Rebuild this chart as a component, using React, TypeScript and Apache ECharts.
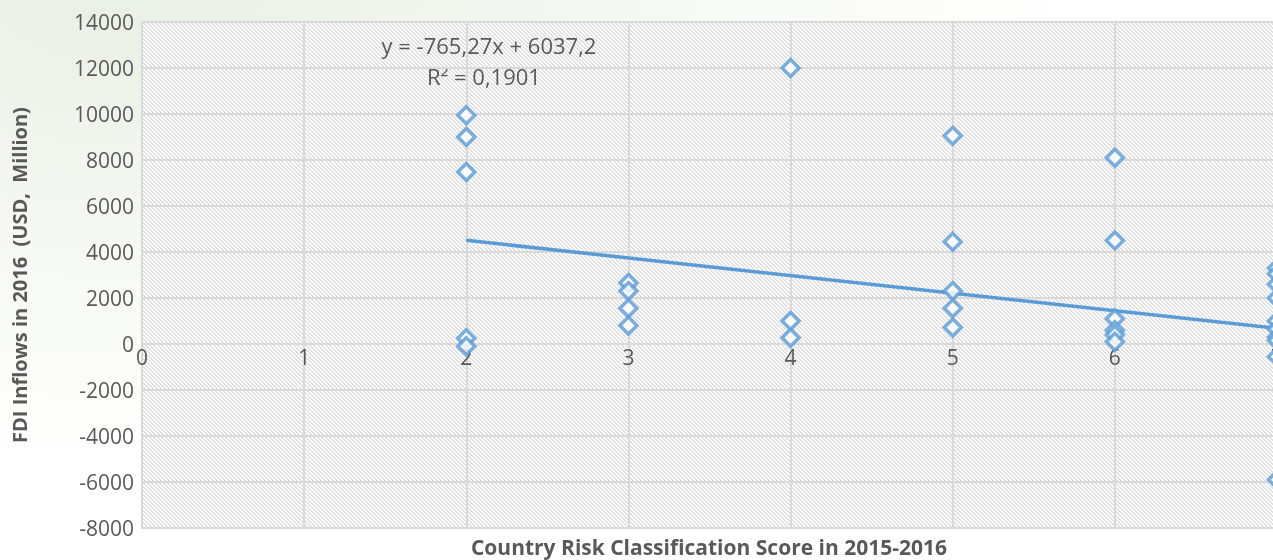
import React, { useEffect, useRef } from "react";
import * as echarts from "echarts";

const riskScore = [
  2, 2, 2, 2, 2,
  3, 3, 3, 3,
  4, 4, 4,
  5, 5, 5, 5, 5,
  6, 6, 6, 6, 6, 6,
  7, 7, 7, 7, 7, 7, 7, 7, 7, 7,
];
const fdiInflows = [
  9950, 9000, 7480, 250, -100,
  2650, 2300, 1550, 800,
  12000, 1000, 270,
  9050, 4450, 2300, 1550, 720,
  8100, 4500, 1100, 600, 400, 100,
  3300, 3050, 2600, 2000, 1000, 650, 300, 150, -550, -5900,
];
const trendX = [2, 7];
const trendY = [4506.7, 680.3];
const equationText = "y = -765,27x + 6037,2";
const r2Text = "R² = 0,1901";
const xTitle = "Country Risk Classification Score in 2015-2016";
const yTitle = "FDI Inflows in 2016  (USD,  Million)";

function makeHatch() {
  const c = document.createElement("canvas");
  c.width = 4;
  c.height = 4;
  const ctx = c.getContext("2d")!;
  ctx.fillStyle = "#ffffff";
  ctx.fillRect(0, 0, 4, 4);
  ctx.fillStyle = "#e0e0e0";
  for (let y = 0; y < 4; y++) {
    for (let k = 0; k < 2; k++) {
      const x = (y + k) % 4;
      ctx.fillRect(x, y, 1, 1);
    }
  }
  return c;
}

export default function App() {
  const ref = useRef<HTMLDivElement>(null);
  useEffect(() => {
    document.body.style.margin = "0";
    document.body.style.overflow = "hidden";
    const chart = echarts.init(ref.current!, null, { renderer: "svg" });
    const txt = "#595959";
    const font = "'Open Sans', sans-serif";
    chart.setOption({
      animation: false,
      textStyle: { fontFamily: font },
      grid: {
        left: 142,
        top: 22,
        width: 1135,
        height: 506,
        show: true,
        borderWidth: 0,
        containLabel: false,
        outerBoundsMode: "none",
        backgroundColor: { image: makeHatch(), repeat: "repeat" },
      },
      xAxis: {
        type: "value",
        min: 0,
        max: 7,
        interval: 1,
        position: "bottom",
        offset: -184,
        axisLine: { onZero: false, lineStyle: { color: "#d9d9d9", width: 2 } },
        axisTick: { show: false },
        axisLabel: { color: txt, fontSize: 21, fontFamily: font, margin: 2 },
        splitLine: { show: true, lineStyle: { color: "#d9d9d9", width: 2 } },
      },
      yAxis: {
        type: "value",
        min: -8000,
        max: 14000,
        interval: 2000,
        name: yTitle,
        nameLocation: "middle",
        nameGap: 113,
        nameTextStyle: { color: txt, fontSize: 20, fontWeight: "bold", fontFamily: font },
        axisLine: { show: true, lineStyle: { color: "#d9d9d9", width: 2 } },
        axisTick: { show: false },
        axisLabel: {
          color: txt,
          fontSize: 21,
          fontFamily: font,
          margin: 8,
          formatter: (v: number) => String(v),
        },
        splitLine: { show: true, lineStyle: { color: "#d9d9d9", width: 2 } },
      },
      series: [
        {
          type: "line",
          data: trendX.map((x, i) => [x, trendY[i]]),
          symbol: "none",
          lineStyle: { color: "#5b9bd5", width: 3.5 },
          z: 2,
        },
        {
          type: "scatter",
          data: riskScore.map((x, i) => [x, fdiInflows[i]]),
          symbol: "diamond",
          symbolSize: 17,
          itemStyle: { color: "#ffffff", borderColor: "#5b9bd5", borderWidth: 3.5 },
          z: 3,
        },
      ],
      graphic: [
        {
          type: "text",
          x: 489,
          y: 45,
          style: { text: equationText, fill: txt, font: `22px ${font}`, textAlign: "center", textVerticalAlign: "middle" },
        },
        {
          type: "text",
          x: 484,
          y: 76,
          style: { text: r2Text, fill: txt, font: `22px ${font}`, textAlign: "center", textVerticalAlign: "middle" },
        },
        {
          type: "text",
          x: 709,
          y: 547,
          style: { text: xTitle, fill: txt, font: `bold 21px ${font}`, textAlign: "center", textVerticalAlign: "middle" },
        },
      ],
    });
    return () => chart.dispose();
  }, []);
  return (
    <div
      style={{
        position: "fixed",
        left: 0,
        top: 0,
        width: 1273,
        height: 560,
        overflow: "hidden",
        background:
          "radial-gradient(ellipse at 10% 0%, #e9f0e4 0%, #f4f7f1 25%, #ffffff 60%)",
      }}
    >
      <div ref={ref} style={{ width: 1273, height: 560 }} />
    </div>
  );
}
